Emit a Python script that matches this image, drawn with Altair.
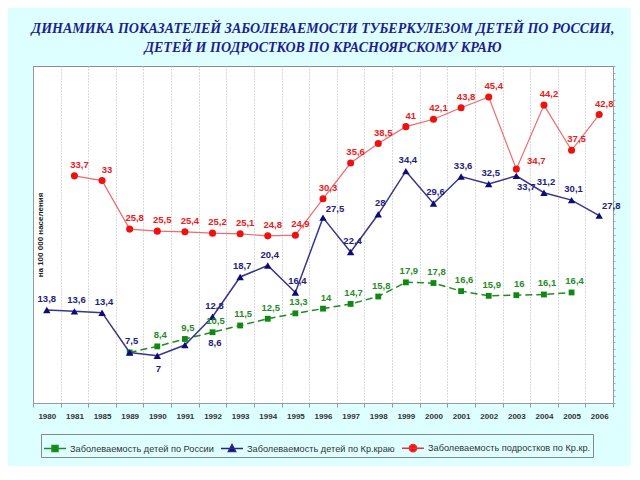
import math
import altair as alt
import pandas as pd

years = ["1980", "1981", "1985", "1989", "1990", "1991", "1992", "1993", "1994", "1995",
         "1996", "1997", "1998", "1999", "2000", "2001", "2002", "2003", "2004", "2005", "2006"]
russia = [None, None, None, 7.5, 8.4, 9.5, 10.5, 11.5, 12.5, 13.3,
          14, 14.7, 15.8, 17.9, 17.8, 16.6, 15.9, 16, 16.1, 16.4, None]
kray_children = [13.8, 13.6, 13.4, 7.5, 7, 8.6, 12.8, 18.7, 20.4, 16.4,
                 27.5, 22.4, 28, 34.4, 29.6, 33.6, 32.5, 33.7, 31.2, 30.1, 27.8]
kray_teens = [None, 33.7, 33, 25.8, 25.5, 25.4, 25.2, 25.1, 24.8, 24.9,
              30.3, 35.6, 38.5, 41, 42.1, 43.8, 45.4, 34.7, 44.2, 37.5, 42.8]
series_names = ["Заболеваемость детей по России",
                "Заболеваемость детей по Кр.краю",
                "Заболеваемость подростков по Кр.кр."]

marker_colors = ["#118811", "#0c0c78", "#f01010"]
line_colors = ["#1e8c1e", "#36368a", "#f06a6a"]
legend_line_colors = ["#1e8c1e", "#2a2a80", "#f03030"]
label_colors = ["#2a8a2a", "#22227a", "#e82020"]
shapes = ["square", "triangle-up", "circle"]
sizes = [34, 55, 50]

# legend symbols: a short line with the series marker on it
_circle = "M" + "L".join("%.3f,%.3f" % (0.33 * math.cos(a * math.pi / 8), 0.33 * math.sin(a * math.pi / 8))
                         for a in range(16)) + "Z"
legend_paths = [
    "M-1,0H1M-0.27,-0.27H0.27V0.27H-0.27Z",
    "M-1,0H1M0,-0.36L0.33,0.26H-0.33Z",
    "M-1,0H1" + _circle,
]

# label placement (style): default offsets per series and exceptions by year
default_offsets = [(3, -11), (2, -11), (5, -11)]
offset_exceptions = [
    {"1989": None},
    {"1980": (0, -11), "1990": (1, 13), "1991": (30, -2), "1996": (12, -9),
     "2003": (10, 11), "2006": (12, -10)},
    {"2003": (20, -8)},
]


def fmt(v):
    return ("%g" % v).replace(".", ",")


rows = []
for name, vals in zip(series_names, [russia, kray_children, kray_teens]):
    for yr, v in zip(years, vals):
        if v is None:
            continue
        rows.append({"year": yr, "value": v, "series": name, "label": fmt(v)})
df = pd.DataFrame(rows)

W, H = 580, 337

x_enc = alt.X(
    "year:O",
    scale=alt.Scale(type="band", domain=years, paddingInner=0, paddingOuter=0),
    axis=alt.Axis(title=None, tickBand="extent", grid=True, gridColor="#b4b4b4",
                  gridDash=[1, 2], gridWidth=1, labelAngle=0, labelFontSize=8,
                  labelFont="Liberation Sans", labelFontWeight="bold", labelColor="#333333",
                  labelPadding=5, tickColor="#999999", tickSize=4, domainColor="#999999"),
)
y_scale = alt.Scale(domain=[0, 50], nice=False, zero=True)


def y_enc(axis=None):
    return alt.Y("value:Q", scale=y_scale, axis=axis)


left_axis = alt.Axis(title="на 100 000 населения", labels=False, ticks=False, grid=False,
                     domainColor="#999999", titleX=7, titleY=H / 2,
                     titleFontSize=8, titleFont="Liberation Sans", titleFontWeight="bold",
                     titleColor="#222222", titleAlign="center", titleBaseline="middle")
right_axis = alt.Axis(orient="right", title=None, labels=False, grid=False,
                      values=list(range(0, 51)), tickSize=2, tickColor="#aaaaaa",
                      domainColor="#999999")

base = alt.Chart(df)
layers = []
first = True
for i, name in enumerate(series_names):
    sel = base.transform_filter(alt.datum.series == name)
    line_kw = dict(color=line_colors[i], strokeWidth=1.5 if i < 2 else 1.2)
    if i == 0:
        line_kw["strokeDash"] = [7, 4]
    layers.append(sel.mark_line(**line_kw).encode(
        x=x_enc, y=y_enc(left_axis if first else None)))
    first = False
    layers.append(sel.mark_point(filled=True, shape=shapes[i], size=sizes[i], opacity=1,
                                 color=marker_colors[i]).encode(x=x_enc, y=y_enc()))

for i, name in enumerate(series_names):
    groups = {}
    for yr in years:
        off = offset_exceptions[i].get(yr, default_offsets[i])
        if off is None:
            continue
        groups.setdefault(off, []).append(yr)
    for (dx, dy), yrs in groups.items():
        layers.append(
            base.transform_filter(alt.datum.series == name)
            .transform_filter(alt.FieldOneOfPredicate(field="year", oneOf=yrs))
            .mark_text(dx=dx, dy=dy, font="Liberation Sans", fontSize=9.5, fontWeight="bold",
                       color=label_colors[i], baseline="middle", align="center")
            .encode(x=x_enc, y=y_enc(), text="label:N"))

legend = alt.Legend(title=None, orient="none", legendX=8, legendY=368, direction="horizontal",
                    columns=3, labelFont="Liberation Sans", labelFontSize=9.2, labelColor="#333333",
                    labelLimit=400, symbolSize=484, symbolStrokeWidth=1.5, strokeColor="#888888",
                    padding=2, columnPadding=4, labelOffset=3, symbolOpacity=1)
layers.append(
    base.transform_filter(alt.datum.value < 0)
    .mark_point(filled=True, opacity=1, strokeWidth=1.5)
    .encode(
        x=x_enc, y=y_enc(right_axis),
        fill=alt.Fill("series:N", scale=alt.Scale(domain=series_names, range=marker_colors), legend=legend),
        stroke=alt.Stroke("series:N", scale=alt.Scale(domain=series_names, range=legend_line_colors), legend=legend),
        shape=alt.Shape("series:N", scale=alt.Scale(domain=series_names, range=legend_paths), legend=legend),
    ))

chart = alt.layer(*layers).resolve_axis(y="independent").properties(
    width=W, height=H,
    title=alt.Title(["ДИНАМИКА ПОКАЗАТЕЛЕЙ ЗАБОЛЕВАЕМОСТИ ТУБЕРКУЛЕЗОМ ДЕТЕЙ ПО РОССИИ,",
                     "ДЕТЕЙ И ПОДРОСТКОВ ПО КРАСНОЯРСКОМУ КРАЮ"],
                    font="Liberation Serif", fontSize=14, fontStyle="italic", fontWeight="bold",
                    color="#1e1e8f", lineHeight=19, offset=11, anchor="middle"),
    padding={"left": 23, "top": 13, "right": 10, "bottom": 8},
    background="#ddffff",
).configure_view(fill="white", stroke="#8c8c8c", strokeWidth=1)

chart.save("out.html", embed_options={"renderer": "svg", "actions": False})
